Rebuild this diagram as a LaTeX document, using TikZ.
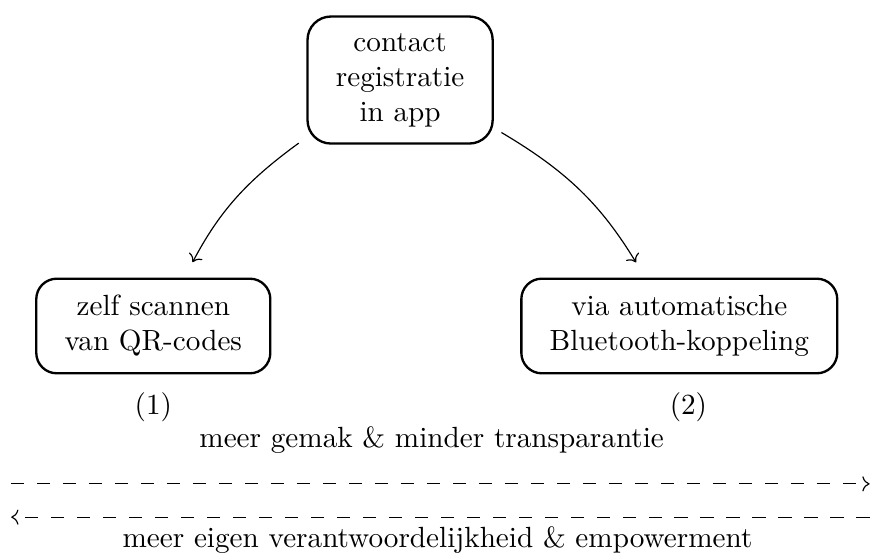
\documentclass[tikz,border=0pt]{standalone}
\usepackage{tikz}
\usetikzlibrary{positioning,arrows,arrows.meta}

\begin{document}
\begin{tikzpicture}[node distance=2.96cm]
    \tikzset{
      choice/.style = {rectangle, rounded corners=7pt, align=center, draw=black, thick, inner xsep=9.7pt, inner ysep=5.7pt, outer sep=3pt},
      tag/.style = {align=center},
      arrow/.style = {->, shorten >=3pt},
      tradeoff/.style = {->, dash pattern=on 4.5pt off 4.4pt}
    }
    \useasboundingbox (-4.815,0.963) rectangle (5.655,-5.68);

    \node (app) [choice, rounded corners=8pt] {contact\\registratie\\in app};

    \node (qr) [choice, below of=app, xshift=-2.97cm] {zelf scannen\\van QR-codes};
    \node (bt) [choice, below of=app, xshift=3.36cm] {via automatische\\Bluetooth-koppeling};

    \node (qr_nr) [tag, below of=qr, node distance=0.98cm] {(1)};
    \node (bt_nr) [tag, below of=bt, node distance=0.98cm, xshift=0.11cm] {(2)};

    \node (gemak) [tag, below of=app, node distance=4.33cm, xshift=0.38cm] {meer gemak \& minder transparantie};
    \coordinate (gemak_l) at (-4.68,-4.86);
    \coordinate (gemak_r) at (5.65,-4.86);
    \coordinate (eigen_l) at (-4.68,-5.26);
    \coordinate (eigen_r) at (5.65,-5.26);
    \node (eigen) [tag, below of=app, node distance=5.54cm, xshift=0.45cm] {meer eigen verantwoordelijkheid \& empowerment};

    \draw [arrow] (app) to[bend right=13] (qr);
    \draw [arrow] (app) to[bend left=14] (bt);
    \draw [tradeoff] (gemak_l) -- (gemak_r);
    \draw [tradeoff] (eigen_r) -- (eigen_l);
\end{tikzpicture}
\end{document}
